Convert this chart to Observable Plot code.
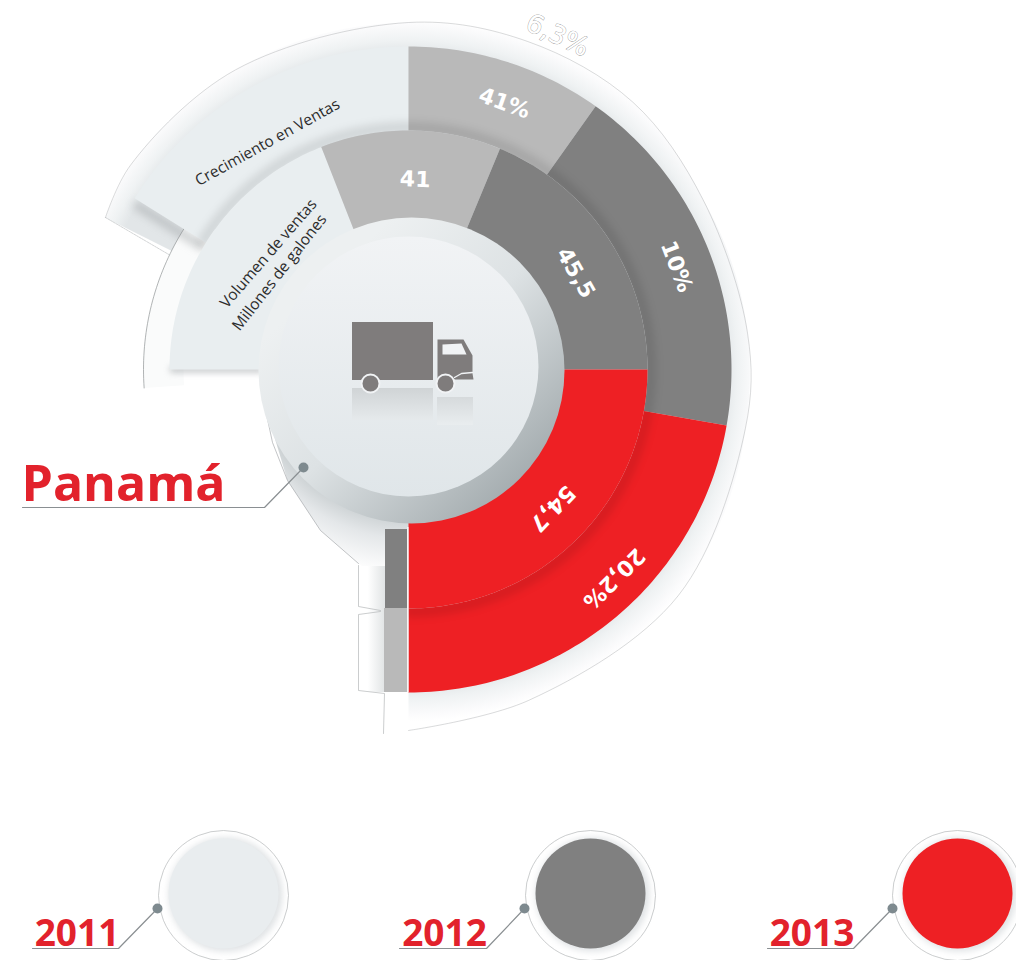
<!DOCTYPE html>
<html lang="es">
<head>
<meta charset="utf-8">
<script src="https://cdn.jsdelivr.net/npm/d3@7"></script>
<script src="https://cdn.jsdelivr.net/npm/@observablehq/plot@0.6"></script>
<style>
html,body{margin:0;padding:0;background:#fff;overflow:hidden}
svg{display:block}
</style>
</head>
<body>
<div id="chart"></div>
<script>
// ---- data ----
const ringColors = ["#e9eef0", "#b9b9b9", "#808080", "#ee2024"];
const salesGrowthLabels = ["Crecimiento en Ventas", "41%", "10%", "20,2%"];
const salesGrowthEdges = [-58, 0, 35.4, 100, 180];          // degrees clockwise from north
const salesGrowthLabelAngles = [-29, 19.8, 69, 135.5];
const volumeLabels = ["", "41", "45,5", "54,7"];
const volumeEdges = [-90, -21.4, 22.5, 90, 180];
const volumeLabelAngles = [0, 2, 60, 134];
const years = ["2011", "2012", "2013"];
const yearColors = ["#e9edef", "#808080", "#ee2024"];
const country = "Panamá";
const ghostLabel = "6,3%";
const volumeTitle = ["Volumen de ventas", "Millones de galones"];

// ---- layout ----
const W = 1016, H = 960, C = [408, 369];
const R = {disk: 130, hub: 153, inner: 149, mid: 239, out: 323, side: 265};
const RED = "#e2222c", LINE = "#8a8f92";
const polar = (deg, r, c = C) => {
  const t = deg * Math.PI / 180;
  return {x: c[0] + r * Math.sin(t), y: c[1] - r * Math.cos(t)};
};
const arc = (a0, a1, r, k = 0) => {
  const n = Math.max(2, Math.ceil(Math.abs(a1 - a0)));
  return d3.range(n + 1).map(i => ({...polar(a0 + (a1 - a0) * i / n, r), k}));
};
const wedge = (a0, a1, r0, r1, k, fill) =>
  [...arc(a0, a1, r1, k), ...arc(a1, a0, r0, k)].map(p => ({...p, fill}));
const ring = (edges, r0, r1, tag) =>
  ringColors.flatMap((c, i) => wedge(edges[i], edges[i + 1], r0, r1, tag + i, c));

const closed = (data, o) => Plot.line(data, {x: "x", y: "y", z: "k", curve: "linear-closed", stroke: "none", ...o});
const pts = (list, k = 0) => list.map(([x, y]) => ({x, y, k}));
const poly = (list, o) => closed(pts(list), o);
const stroke = (list, o) => Plot.line(pts(list), {x: "x", y: "y", stroke: LINE, strokeWidth: 1, ...o});
const rect = (x1, y1, x2, y2, fill) => Plot.rect([0], {x1: () => x1, y1: () => y1, x2: () => x2, y2: () => y2, fill});

// halo outline around the outer ring, sampled along its faint edge
const haloAngles = [-63.4, -53.7, -30, 0, 20, 40, 60, 84, 100, 130, 160, 180];
const haloRadii = [339, 345, 346, 347, 349, 349, 340, 341, 342, 352, 352, 361];
const haloEdge = haloAngles.map((a, i) => polar(a, haloRadii[i]));
const haloR = d3.scaleLinear(haloAngles, haloRadii);
const haloFill = [...d3.range(-63.4, 180, 1), 180].map(a => polar(a, haloR(a)));
haloFill.push({x: C[0], y: C[1]});

const defs = () => d3.create("svg:defs").html(`
  <radialGradient id="haloG" gradientUnits="userSpaceOnUse" cx="${C[0]}" cy="${C[1]}" r="352">
    <stop offset="0.9" stop-color="#e2e6e8"/><stop offset="0.935" stop-color="#eff2f3"/>
    <stop offset="0.98" stop-color="#fbfbfc"/><stop offset="1" stop-color="#ffffff"/>
  </radialGradient>
  <radialGradient id="blobG" gradientUnits="userSpaceOnUse" cx="408" cy="366" r="215">
    <stop offset="0.68" stop-color="#c6ccce"/><stop offset="0.8" stop-color="#e4e7e9"/>
    <stop offset="0.97" stop-color="#ffffff"/>
  </radialGradient>
  <linearGradient id="hubG" gradientUnits="userSpaceOnUse" x1="300" y1="260" x2="520" y2="490">
    <stop offset="0.1" stop-color="#edf0f1"/><stop offset="0.5" stop-color="#dde2e4"/>
    <stop offset="1" stop-color="#a3abae"/>
  </linearGradient>
  <linearGradient id="diskG" gradientUnits="userSpaceOnUse" x1="0" y1="236" x2="0" y2="496">
    <stop offset="0" stop-color="#f1f3f5"/><stop offset="1" stop-color="#e0e6e9"/>
  </linearGradient>
  <linearGradient id="barShadeG" gradientUnits="userSpaceOnUse" x1="360" y1="0" x2="386" y2="0">
    <stop offset="0.3" stop-color="#ffffff"/><stop offset="1" stop-color="#dfe2e3"/>
  </linearGradient>
  <linearGradient id="reflectG" gradientUnits="userSpaceOnUse" x1="0" y1="387" x2="0" y2="425">
    <stop offset="0" stop-color="#cfd3d5"/><stop offset="1" stop-color="#e9edef"/>
  </linearGradient>
`).node();

const labelAt = (text, deg, r, rot, o) => Plot.text([text], {
  x: () => polar(deg, r).x, y: () => polar(deg, r).y, text: d => d, rotate: rot,
  fontFamily: "DejaVu Sans", fontWeight: "bold", fontSize: 22, fill: "#fff", ...o
});
const plain = (text, x, y, rot, o) => Plot.text([text], {
  x: () => x, y: () => y, text: d => d, rotate: rot,
  fontFamily: "Open Sans", fontSize: 15.5, fill: "#2c2c2c", ...o
});

const legendX = [223, 590, 957], legendDotX = [157, 524, 892], legendLineX = [[32, 118], [399, 486], [767, 853]];
const bandEnd = [polar(-58, 318), polar(-58, 243)].map(p => [p.x - 1, p.y + 5]);

const chart = Plot.plot({
  width: W, height: H, margin: 0,
  x: {domain: [0, W], range: [0, W], axis: null},
  y: {domain: [0, H], range: [0, H], axis: null},
  color: {type: "identity"},
  marks: [
    defs,
    // halos behind the rings
    closed(haloFill.map(p => ({...p, k: "halo"})), {fill: "url(#haloG)"}),
    Plot.line(haloEdge, {x: "x", y: "y", curve: "catmull-rom", stroke: "#a4a7a9", strokeWidth: 0.6, strokeOpacity: 0.7}),
    stroke([[105, 217], [170, 255]], {stroke: "#b6b9bb", strokeWidth: 0.6, strokeDasharray: "2,1"}),
    closed(wedge(-94, -54, 225, R.side, "s", "x"), {fill: "#fafbfb"}),
    Plot.line(arc(-94, -56, R.side), {x: "x", y: "y", stroke: "#8f9395", strokeWidth: 0.7}),
    // soft blob below the hub, on the lower left
    poly([[262, 360], [263, 400], [287, 480], [320, 530], [358, 563], [388, 585], [420, 540], [420, 360]], {fill: "url(#blobG)"}),
    stroke([[262, 355], [263, 400], [272, 442], [287, 480], [320, 530], [358, 563]], {stroke: "#9a9ea1", strokeWidth: 0.6}),
    rect(359, 566, 386, 692, "url(#barShadeG)"),
    stroke([[358, 565], [358, 606], [380, 610]], {strokeWidth: 0.7, stroke: "#b4b7b9"}),
    stroke([[380, 611], [358, 614], [358, 690], [384, 693], [383, 733]], {strokeWidth: 0.7, stroke: "#b4b7b9"}),
    // shadows below the free ends of the pale bands
    stroke(bandEnd, {stroke: "#8e9395", strokeWidth: 8, strokeOpacity: 0.45, imageFilter: "blur(4px)"}),
    stroke([[172, 369], [260, 369]], {stroke: "#9ba0a3", strokeWidth: 6, strokeOpacity: 0.6, imageFilter: "blur(3px)"}),
    // outer ring: Crecimiento en Ventas
    closed(ring(salesGrowthEdges, R.mid, R.out, "o"), {fill: "fill"}),
    Plot.line(arc(-58, 180, R.mid + 3), {x: "x", y: "y", stroke: "#000", strokeWidth: 10, strokeOpacity: 0.11, imageFilter: "blur(4px)"}),
    // inner ring: Volumen de ventas
    closed(ring(volumeEdges, R.inner, R.mid, "i"), {fill: "fill"}),
    // two small bars at the foot of the 2013 slice
    rect(385, 529, 407, 608, ringColors[2]),
    rect(384, 608, 407, 692, ringColors[1]),
    rect(407, 527, 408.5, 692, "#f4f5f5"),
    // hub and disk
    Plot.dot([0], {x: () => C[0] + 3, y: () => C[1] + 1, r: R.hub, fill: "url(#hubG)"}),
    Plot.dot([0], {x: () => C[0], y: () => C[1] - 3, r: R.disk, fill: "url(#diskG)"}),
    // truck
    rect(352, 388, 433, 420, "url(#reflectG)"),
    rect(437, 397, 473, 425, "url(#reflectG)"),
    rect(352, 322, 433, 380, "#7f7c7c"),
    poly([[437, 339], [463, 339], [472, 355], [472, 373], [473, 379], [437, 379]], {fill: "#7f7c7c"}),
    poly([[442, 344], [461, 343], [466, 354], [442, 354]], {fill: "#f1f3f5"}),
    stroke([[454, 377], [461, 373], [472, 372]], {stroke: "#f1f3f5", strokeWidth: 1.4}),
    Plot.dot([[370, 383], [445, 383]], {x: "0", y: "1", r: 9, fill: "#7f7c7c", stroke: "#f1f3f5", strokeWidth: 2}),
    // ring labels
    labelAt(salesGrowthLabels[1], salesGrowthLabelAngles[1], 283, salesGrowthLabelAngles[1]),
    labelAt(salesGrowthLabels[2], salesGrowthLabelAngles[2], 287, salesGrowthLabelAngles[2]),
    labelAt(salesGrowthLabels[3], salesGrowthLabelAngles[3], 293, salesGrowthLabelAngles[3]),
    labelAt(volumeLabels[1], volumeLabelAngles[1], 190, volumeLabelAngles[1]),
    labelAt(volumeLabels[2], volumeLabelAngles[2], 193, volumeLabelAngles[2]),
    labelAt(volumeLabels[3], volumeLabelAngles[3], 200, volumeLabelAngles[3]),
    plain(salesGrowthLabels[0], 267, 142, salesGrowthLabelAngles[0]),
    plain(volumeTitle[0], 268, 253, -49),
    plain(volumeTitle[1], 279, 272, -52),
    plain(ghostLabel, 557, 35, 25, {fontSize: 26, fill: "#fff", stroke: "#8f8f8f", strokeWidth: 0.7, fontFamily: "DejaVu Sans"}),
    // country callout
    plain(country, 21, 500, 0, {textAnchor: "start", lineAnchor: "bottom", fontFamily: "Open Sans", fontWeight: "bold", fontSize: 50, fill: RED}),
    stroke([[22, 507], [264, 507], [303, 467]], {strokeWidth: 1.2}),
    Plot.dot([[303, 467]], {x: "0", y: "1", r: 5, fill: "#7e8a8f"}),
    // legend
    ...years.flatMap((year, i) => [
      Plot.dot([0], {x: () => legendX[i], y: () => 895, r: 65, fill: "#fff", stroke: "#b4b7b9", strokeWidth: 0.7}),
      Plot.dot([0], {x: () => legendX[i] + 2, y: () => 894, r: 57, fill: "#ccd1d3", imageFilter: "blur(3px)", fillOpacity: 0.6}),
      Plot.dot([0], {x: () => legendX[i], y: () => 893, r: 55, fill: yearColors[i]}),
      stroke([[legendLineX[i][0], 948], [legendLineX[i][1], 948], [legendDotX[i], 908]], {strokeWidth: 1.2}),
      Plot.dot([0], {x: () => legendDotX[i], y: () => 908, r: 5, fill: "#7e8a8f"}),
      plain(year, (legendLineX[i][0] + legendLineX[i][1]) / 2 + 1.5, 945, 0, {lineAnchor: "bottom", fontWeight: "bold", fontSize: 37, fill: RED})
    ])
  ]
});
document.getElementById("chart").append(chart);
</script>
</body>
</html>
